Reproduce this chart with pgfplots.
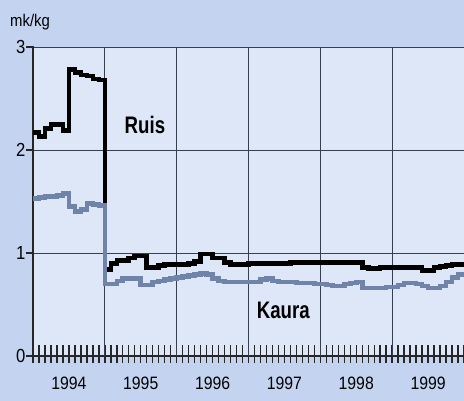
\documentclass[border=0pt]{standalone}
\usepackage{pgfplots}
\pgfplotsset{compat=1.18}
\usepackage{fontspec}
\setmainfont{Liberation Sans}[FakeStretch=0.88]
\newfontfamily\condfont{Liberation Sans}[FakeStretch=0.78]

\definecolor{outerbg}{RGB}{196,212,240}
\definecolor{innerbg}{RGB}{221,231,248}
\definecolor{kauracol}{RGB}{112,132,170}
\definecolor{gridcol}{RGB}{55,62,80}

% monthly prices, month 0 = January 1994
\pgfplotstableread{
m   v
0   2.17
1   2.13
2   2.21
3   2.25
4   2.25
5   2.19
6   2.78
7   2.75
8   2.73
9   2.72
10  2.69
11  2.68
12  0.84
13  0.90
14  0.93
15  0.93
16  0.95
17  0.97
18  0.97
19  0.86
20  0.86
21  0.88
22  0.89
23  0.89
24  0.89
25  0.89
26  0.90
27  0.92
28  0.99
29  0.99
30  0.95
31  0.95
32  0.91
33  0.89
34  0.89
35  0.89
36  0.90
37  0.90
38  0.90
39  0.90
40  0.90
41  0.90
42  0.90
43  0.91
44  0.91
45  0.91
46  0.91
47  0.91
48  0.91
49  0.91
50  0.91
51  0.91
52  0.91
53  0.91
54  0.91
55  0.86
56  0.85
57  0.85
58  0.86
59  0.86
60  0.86
61  0.86
62  0.86
63  0.86
64  0.86
65  0.83
66  0.83
67  0.86
68  0.87
69  0.88
70  0.89
71  0.89
72  0.89
}\ruis

\pgfplotstableread{
m   v
0   1.53
1   1.54
2   1.55
3   1.55
4   1.56
5   1.58
6   1.45
7   1.40
8   1.42
9   1.48
10  1.47
11  1.46
12  0.70
13  0.70
14  0.73
15  0.75
16  0.75
17  0.75
18  0.69
19  0.69
20  0.72
21  0.73
22  0.74
23  0.75
24  0.76
25  0.77
26  0.78
27  0.79
28  0.80
29  0.79
30  0.75
31  0.73
32  0.72
33  0.72
34  0.72
35  0.72
36  0.72
37  0.72
38  0.74
39  0.75
40  0.73
41  0.72
42  0.72
43  0.72
44  0.71
45  0.71
46  0.71
47  0.70
48  0.70
49  0.69
50  0.68
51  0.68
52  0.70
53  0.71
54  0.72
55  0.66
56  0.66
57  0.66
58  0.66
59  0.67
60  0.67
61  0.69
62  0.71
63  0.71
64  0.70
65  0.68
66  0.66
67  0.66
68  0.68
69  0.72
70  0.76
71  0.79
72  0.79
}\kaura

\begin{document}
\begin{tikzpicture}
    \fill[outerbg] (-33bp,-45bp) rectangle (431bp,356bp);
    \useasboundingbox (-33bp,-45bp) rectangle (431bp,356bp);
    \begin{axis}[
        at={(0,0)}, anchor=south west,
        scale only axis,
        width=431bp, height=309bp,
        xmin=0, xmax=72,
        ymin=0, ymax=3,
        axis background/.style={fill=innerbg},
        axis x line*=bottom,
        axis y line*=left,
        axis line style={-, line width=1.6bp, color=black!85},
        xtick={6,18,30,42,54,66},
        xticklabels={1994,1995,1996,1997,1998,1999},
        minor xtick={0,1,...,72},
        ytick={0,1,2,3},
        tick align=inside,
        major x tick style={draw=none},
        minor x tick style={line width=1.4bp, color=black!85, yshift=-6.5bp},
        minor tick length=17bp,
        major tick length=8bp,
        major y tick style={line width=1.4bp, color=black!85, xshift=-7bp},
        ymajorgrids=true,
        extra x ticks={12,24,36,48,60,72},
        extra x tick labels={,,,,,},
        extra x tick style={xmajorgrids=true, major x tick style={draw=none}},
        major grid style={line width=0.9bp, color=gridcol},
        /pgf/number format/assume math mode=true,
        xticklabel style={font=\fontsize{18}{18}\selectfont, yshift=-17bp},
        yticklabel style={font=\fontsize{19}{19}\selectfont, xshift=-4bp},
        const plot,
        clip=false,
    ]
    \addplot[black, line width=4.6bp, line join=miter] table[x=m, y=v] {\ruis};
    \addplot[kauracol, line width=4.6bp, line join=miter] table[x=m, y=v] {\kaura};
    \node[font=\condfont\bfseries\fontsize{24}{24}\selectfont] at (axis cs:18.7,2.24) {Ruis};
    \node[font=\condfont\bfseries\fontsize{24}{24}\selectfont] at (axis cs:41.8,0.44) {Kaura};
    \end{axis}
    \node[anchor=base west, inner sep=0pt, font=\fontsize{17}{17}\selectfont] at (-23bp,329bp) {mk/kg};
\end{tikzpicture}
\end{document}
